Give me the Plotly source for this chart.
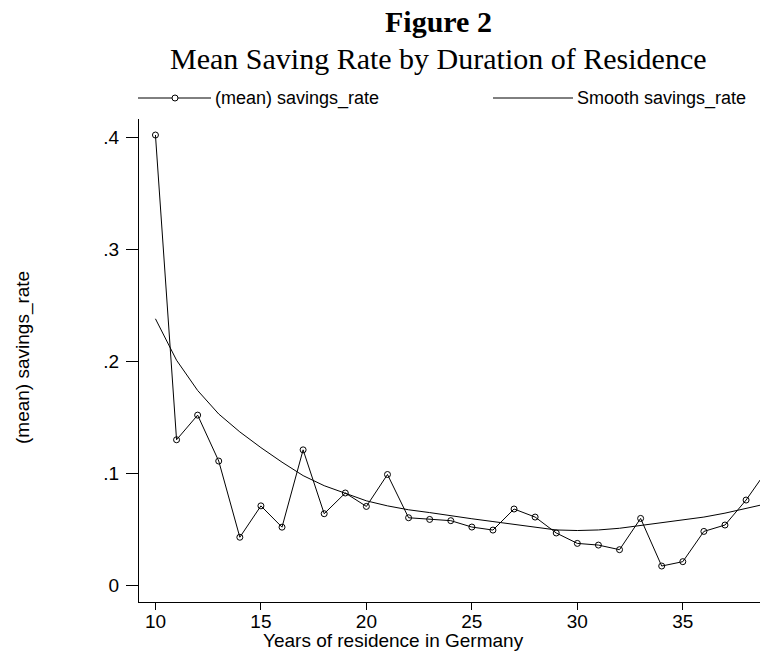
import plotly.graph_objects as go

# Mean saving rate by years of residence, with a smoothed fit
years = list(range(10, 40))
mean_rate = [0.402, 0.130, 0.152, 0.111, 0.043, 0.071, 0.052, 0.121, 0.064, 0.0825,
             0.0705, 0.099, 0.0604, 0.0589, 0.0578, 0.0521, 0.0494, 0.0682, 0.0610, 0.0468,
             0.0375, 0.0360, 0.0319, 0.0598, 0.0173, 0.0212, 0.0482, 0.0539, 0.0762, 0.103]
smooth_rate = [0.238, 0.201, 0.174, 0.153, 0.137, 0.123, 0.110, 0.098, 0.089, 0.0825,
               0.0755, 0.071, 0.0675, 0.065, 0.062, 0.0595, 0.057, 0.0545, 0.052, 0.0495,
               0.0490, 0.0495, 0.051, 0.0535, 0.0555, 0.058, 0.061, 0.0645, 0.0685, 0.073]

x_ticks = [10, 15, 20, 25, 30, 35]
y_ticks = [0, 0.1, 0.2, 0.3, 0.4]
y_tick_text = ["0", ".1", ".2", ".3", ".4"]

series_names = ["(mean) savings_rate", "Smooth savings_rate"]
title_main = "Figure 2"
title_sub = "Mean Saving Rate by Duration of Residence"
x_title = "Years of residence in Germany"
y_title = "(mean) savings_rate"

W, H = 760, 653
L, R, T, B = 139, 0, 119, 51
PW, PH = W - L - R, H - T - B


def px(x):
    return (x - L) / PW


def py(y):
    return (H - B - y) / PH


SANS = "Liberation Sans, Arial, sans-serif"
SERIF = "Liberation Serif, Times New Roman, serif"
INK = "#000000"

fig = go.Figure()
fig.add_trace(go.Scatter(
    x=years, y=mean_rate, mode="lines+markers", name=series_names[0],
    line=dict(color=INK, width=1),
    marker=dict(symbol="circle-open", size=6, color=INK, line=dict(width=1)),
    showlegend=False,
))
fig.add_trace(go.Scatter(
    x=years, y=smooth_rate, mode="lines", name=series_names[1],
    line=dict(color=INK, width=1), showlegend=False,
))

# legend row drawn along the top
leg_y = 98
shapes = [
    dict(type="line", xref="paper", yref="paper", x0=px(138), x1=px(211), y0=py(leg_y), y1=py(leg_y),
         line=dict(color=INK, width=1)),
    dict(type="circle", xref="paper", yref="paper", x0=px(172), x1=px(178), y0=py(leg_y + 3), y1=py(leg_y - 3),
         line=dict(color=INK, width=1), fillcolor="white"),
    dict(type="line", xref="paper", yref="paper", x0=px(493), x1=px(573), y0=py(leg_y), y1=py(leg_y),
         line=dict(color=INK, width=1)),
]

annotations = [
    dict(text="<b>" + title_main + "</b>", x=px(438), y=py(21), xref="paper", yref="paper",
         showarrow=False, font=dict(family=SERIF, size=30, color=INK), xanchor="center", yanchor="middle"),
    dict(text=title_sub, x=px(438), y=py(59), xref="paper", yref="paper",
         showarrow=False, font=dict(family=SERIF, size=30, color=INK), xanchor="center", yanchor="middle"),
    dict(text=series_names[0], x=px(213), y=py(leg_y), xref="paper", yref="paper",
         showarrow=False, font=dict(family=SANS, size=18, color=INK), xanchor="left", yanchor="middle"),
    dict(text=series_names[1], x=px(575), y=py(leg_y), xref="paper", yref="paper",
         showarrow=False, font=dict(family=SANS, size=18, color=INK), xanchor="left", yanchor="middle"),
    dict(text=x_title, x=px(393), y=py(640), xref="paper", yref="paper",
         showarrow=False, font=dict(family=SANS, size=19, color=INK), xanchor="center", yanchor="middle"),
    dict(text=y_title, x=px(23), y=py(358), xref="paper", yref="paper", textangle=-90,
         showarrow=False, font=dict(family=SANS, size=19, color=INK), xanchor="center", yanchor="middle"),
]

fig.update_layout(
    width=W, height=H,
    margin=dict(l=L, r=R, t=T, b=B, pad=0),
    paper_bgcolor="white", plot_bgcolor="white",
    font=dict(family=SANS, size=19, color=INK),
    shapes=shapes, annotations=annotations,
    xaxis=dict(range=[9.22, 38.66], tickvals=x_ticks, showgrid=False, zeroline=False,
               showline=True, linecolor=INK, linewidth=1, ticks="outside", ticklen=7,
               tickwidth=1, tickcolor=INK, ticklabelstandoff=-5,
               tickfont=dict(family=SANS, size=19, color=INK)),
    yaxis=dict(range=[-0.0148, 0.4163], tickvals=y_ticks, ticktext=y_tick_text, showgrid=False,
               zeroline=False, showline=True, linecolor=INK, linewidth=1, ticks="outside",
               ticklen=12, tickwidth=1, tickcolor=INK, ticklabelstandoff=3,
               tickfont=dict(family=SANS, size=19, color=INK)),
)

fig.write_html("out.html")
